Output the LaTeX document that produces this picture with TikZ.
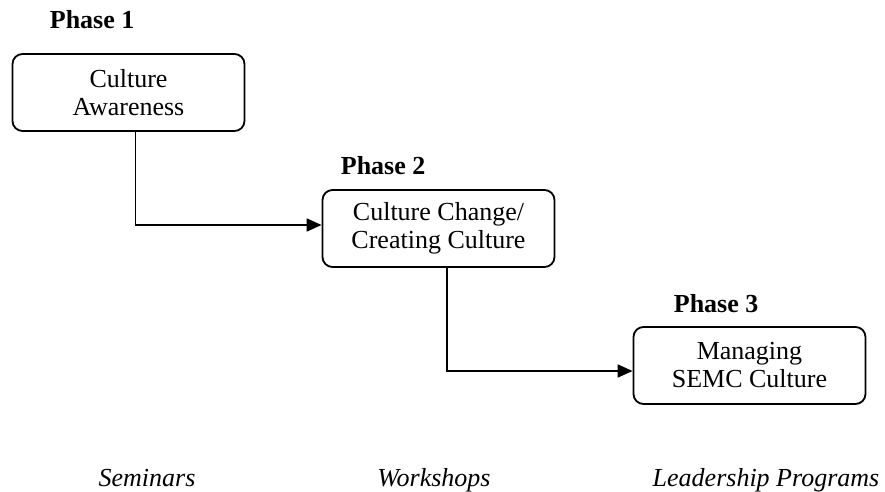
\documentclass[tikz,border=0pt]{standalone}
\usepackage{fontspec}
\setmainfont{Liberation Serif}
\usetikzlibrary{positioning,arrows.meta}

\begin{document}
\begin{tikzpicture}[x=0.5pt,y=-0.5pt,line width=0.9pt,>={Triangle[length=7.5pt,width=6.5pt]},
    phasebox/.style={draw,rounded corners=5pt,minimum width=116pt,minimum height=38.5pt,align=center,font=\fontsize{13}{14}\selectfont},
    phasetitle/.style={anchor=base west,inner sep=0pt,font=\fontsize{13}{14}\selectfont\bfseries},
    means/.style={anchor=base,font=\fontsize{13}{14}\selectfont\itshape}]
    \useasboundingbox (0,0) rectangle (885,492);
    \node[phasebox] (p_1) at (128.5,92.5) {Culture\\Awareness};
    \node[phasebox] (p_2) at (438.5,228.5) {Culture Change/\\Creating Culture};
    \node[phasebox] (p_3) at (749.5,365.5) {Managing\\SEMC Culture};
    \node[phasetitle] (ph_1) at (49,29) {Phase 1};
    \node[phasetitle] (ph_2) at (340,175) {Phase 2};
    \node[phasetitle] (ph_3) at (673,313) {Phase 3};
    \draw[->] ([xshift=3.5pt]p_1.south) |- ([yshift=1.75pt]p_2.west);
    \draw[->] ([xshift=4.25pt]p_2.south) |- ([yshift=-2.75pt]p_3.west);
    % what each phase runs on
    \node[means] (m_1) at (147,487) {Seminars};
    \node[means] (m_2) at (434,487) {Workshops};
    \node[means] (m_3) at (766,487) {Leadership Programs};
  \end{tikzpicture}
\end{document}
